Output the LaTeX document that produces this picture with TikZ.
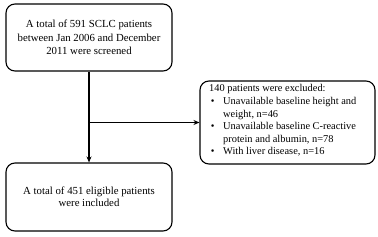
\documentclass[tikz,border=0pt]{standalone}
\usepackage{fontspec}
\setmainfont{Liberation Serif}
\usetikzlibrary{arrows.meta}
\begin{document}
\begin{tikzpicture}[x=1pt,y=1pt,
  box/.style={draw, line width=1.1pt, rounded corners=9pt, inner sep=0pt, align=center},
  conn/.style={line width=1.1pt},
  arr/.style={conn, -{Stealth[length=6pt,width=5pt]}}]
\useasboundingbox (0,0) rectangle (378,236);
\fill[white] (0,0) rectangle (378,236);
\node[box, minimum width=166, minimum height=67, font=\fontsize{10.8}{13.3}\selectfont] (top) at (89,198.5)
  {A total of 591 SCLC patients\\between Jan 2006 and December\\2011 were screened};
\node[box, minimum width=166, minimum height=68, font=\fontsize{10.8}{11.6}\selectfont] (bot) at (89,39)
  {A total of 451 eligible patients\\were included};
\node[box, minimum width=175, minimum height=83] (exc) at (287.5,113.5) {};
\node[anchor=north west, inner sep=0pt, align=left, font=\fontsize{10.4}{12.6}\selectfont] (exctext) at (209,151.5)
  {140 patients were excluded:\\
   \makebox[14pt][l]{\,\textbullet}Unavailable baseline height and\\
   \hspace*{14pt}weight, n=46\\
   \makebox[14pt][l]{\,\textbullet}Unavailable baseline C-reactive\\
   \hspace*{14pt}protein and albumin, n=78\\
   \makebox[14pt][l]{\,\textbullet}With liver disease, n=16};
\coordinate (j) at (top.south |- exc.west);
\draw[arr] (top.south) -- (bot.north);
\draw[arr] (j) -- (exc.west);
\end{tikzpicture}
\end{document}
